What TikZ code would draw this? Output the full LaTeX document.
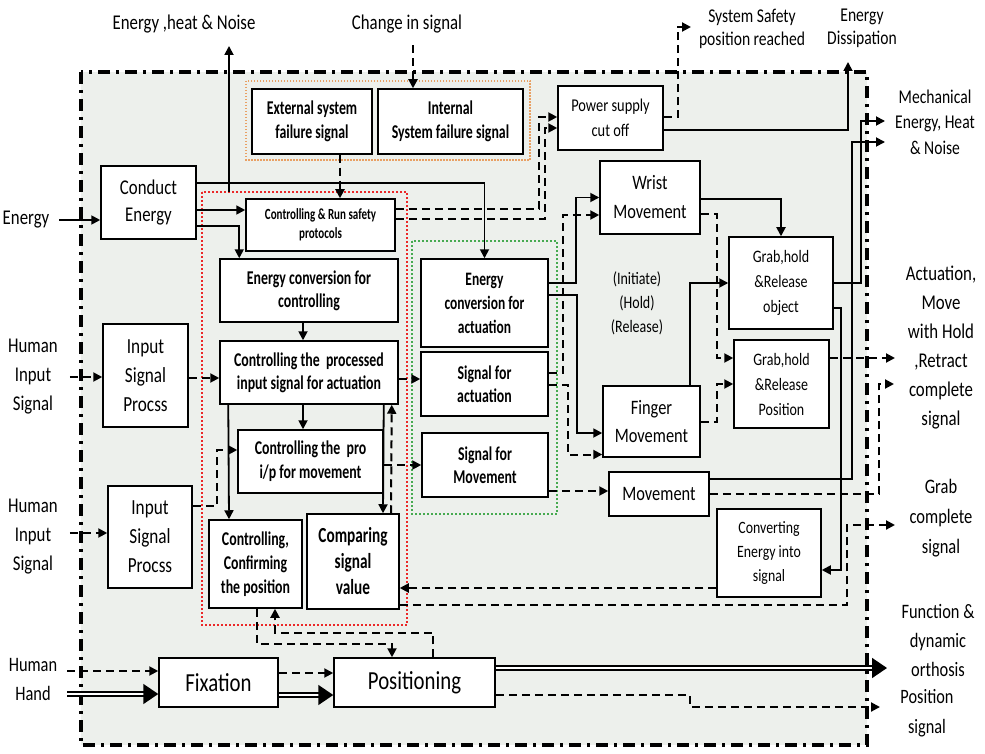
\documentclass[tikz,border=0pt]{standalone}
\usepackage{fontspec}
\setmainfont{Carlito}[FakeStretch=0.8,BoldFeatures={FakeStretch=0.71}]
\usetikzlibrary{arrows.meta,calc}
\newcommand\fsz[2]{\fontsize{#1}{#2}\selectfont}
\definecolor{bgc}{RGB}{237,240,236}
\definecolor{redd}{RGB}{235,40,40}
\definecolor{orng}{RGB}{232,160,100}
\definecolor{grn}{RGB}{70,170,80}
\begin{document}
\begin{tikzpicture}[x=1pt,y=-1pt,
 box/.style={draw, fill=white, line width=1.5pt, align=center, inner sep=1pt},
 lbl/.style={align=center, inner sep=2pt},
 arr/.style={line width=1.8pt, -{Triangle[length=9pt,width=9pt]}},
 dsh/.style={line width=2pt, dash pattern=on 8pt off 5pt},
 dbl/.style={line width=1.6pt, double distance=2.8pt, -{Triangle[length=15pt,width=20pt]}},
]
\useasboundingbox (0,0) rectangle (985,754);
% outer system boundary
\fill[bgc] (81,72) rectangle (867,745);
\draw[line width=3.5pt, dash pattern=on 12pt off 6pt on 3pt off 6pt] (81,72) rectangle (867,745);
% grouping frames
\draw[orng, line width=2.5pt, dash pattern=on 1.5pt off 1.5pt] (246,81) rectangle (530,160);
\draw[redd, line width=2pt, dash pattern=on 2pt off 2pt] (202,192) rectangle (407,625);
\draw[grn, line width=2pt, dash pattern=on 2pt off 2pt] (412,241) rectangle (557,514);

% boxes
\node[box, minimum width=95pt, minimum height=73pt, font=\fsz{21}{27}] (conduct) at (148.5,202.5) {Conduct\\Energy};
\node[box, minimum width=120pt, minimum height=65pt, font=\fsz{19.5}{24}\bfseries] (ext) at (312,121.5) {External system\\failure signal};
\node[box, minimum width=145pt, minimum height=65pt, font=\fsz{19.5}{24}\bfseries] (int) at (450.5,121.5) {Internal\\System failure signal};
\node[box, minimum width=149pt, minimum height=52pt, font=\fsz{15.5}{19}\bfseries] (crs) at (320.5,225) {Controlling \& Run safety\\protocols};
\node[box, minimum width=178pt, minimum height=63pt, font=\fsz{19.5}{23}\bfseries] (ecc) at (309,290.5) {Energy conversion for\\controlling};
\node[box, minimum width=178pt, minimum height=63pt, font=\fsz{19.5}{23}\bfseries] (cpi) at (309,372.5) {Controlling the\ \ processed\\input signal for actuation};
\node[box, minimum width=145pt, minimum height=63pt, font=\fsz{19.5}{24}\bfseries] (cpm) at (310.5,461.5) {Controlling the\ \ pro\\i/p for movement};
\node[box, minimum width=93pt, minimum height=88pt, font=\fsz{19.5}{24}\bfseries] (ccp) at (255.5,564) {Controlling,\\Confirming\\the position};
\node[box, minimum width=92pt, minimum height=95pt, font=\fsz{21.5}{26}\bfseries] (csv) at (353,561.5) {Comparing\\signal\\value};
\node[box, minimum width=85pt, minimum height=103pt, font=\fsz{21.5}{29}] (isp1) at (145.5,375.5) {Input\\Signal\\Procss};
\node[box, minimum width=84pt, minimum height=102pt, font=\fsz{21.5}{29}] (isp2) at (150,537) {Input\\Signal\\Procss};
\node[box, minimum width=127pt, minimum height=88pt, font=\fsz{19}{24}\bfseries] (eca) at (484.5,303) {Energy\\conversion for\\actuation};
\node[box, minimum width=127pt, minimum height=64pt, font=\fsz{19.5}{23}\bfseries] (sfa) at (484.5,384) {Signal for\\actuation};
\node[box, minimum width=126pt, minimum height=64pt, font=\fsz{19.5}{23}\bfseries] (sfm) at (485,465) {Signal for\\Movement};
\node[box, minimum width=105pt, minimum height=64pt, font=\fsz{18}{25}] (psc) at (610.5,118) {Power supply\\cut off};
\node[box, minimum width=100pt, minimum height=73pt, font=\fsz{20.5}{29}] (wrist) at (650,197.5) {Wrist\\Movement};
\node[box, minimum width=97pt, minimum height=71pt, font=\fsz{20.5}{28}] (finger) at (651.5,421.5) {Finger\\Movement};
\node[box, minimum width=104pt, minimum height=92pt, font=\fsz{17.5}{25}] (gro) at (781,283) {Grab,hold\\\&Release\\object};
\node[box, minimum width=95pt, minimum height=88pt, font=\fsz{17.5}{25}] (grp) at (781.5,384) {Grab,hold\\\&Release\\Position};
\node[box, minimum width=100pt, minimum height=44pt, font=\fsz{20.5}{26}] (mov) at (659,494) {Movement};
\node[box, minimum width=104pt, minimum height=88pt, font=\fsz{17.3}{24}] (cei) at (769,553) {Converting\\Energy into\\signal};
\node[box, minimum width=119pt, minimum height=49pt, font=\fsz{26}{30}] (fix) at (218.5,682.5) {Fixation};
\node[box, minimum width=161pt, minimum height=49pt, font=\fsz{26}{30}] (pos) at (414.5,682.5) {Positioning};

% free labels
\node[lbl, font=\fsz{21}{27}] (ehn) at (184,24) {Energy ,heat \& Noise};
\node[lbl, font=\fsz{21}{27}] (cis) at (407,24) {Change in signal};
\node[lbl, font=\fsz{21}{27}] (energy) at (26,220) {Energy};
\node[lbl, font=\fsz{21}{29}] (his1) at (33,377) {Human\\Input\\Signal};
\node[lbl, font=\fsz{21}{29}] (his2) at (33,537) {Human\\Input\\Signal};
\node[lbl, font=\fsz{20.5}{29}] (hh) at (33,679) {Human\\Hand};
\node[lbl, font=\fsz{19.5}{23}] (sss) at (752,28.5) {System Safety\\position reached};
\node[lbl, font=\fsz{19.5}{23}] (ed) at (862,28.5) {Energy\\Dissipation};
\node[lbl, font=\fsz{19.5}{25.5}] (mech) at (935,122) {Mechanical\\Energy, Heat\\\& Noise};
\node[lbl, font=\fsz{21}{29}] (act) at (941,347.5) {Actuation,\\Move\\with Hold\\,Retract\\complete\\signal};
\node[lbl, font=\fsz{20.6}{30}] (gcs) at (941,518) {Grab\\complete\\signal};
\node[lbl, font=\fsz{20.5}{29}] (fdo) at (938,640) {Function \&\\dynamic\\orthosis};
\node[lbl, font=\fsz{20.4}{30}] (ps) at (927,713) {Position\\signal};
\node[lbl, font=\fsz{17.5}{24}] (ihr) at (637,303.5) {(Initiate)\\(Hold)\\(Release)};

% free ends
\coordinate (ehnsrc) at (229,192);
\coordinate (ehnend) at (229,46);
\coordinate (sssend) at (691,27);
\coordinate (edend) at (848,62);
\coordinate (mechA) at (885,121);
\coordinate (mechB) at (885,142);
\coordinate (actA) at (895,358);
\coordinate (actB) at (894,384);
\coordinate (gcsA) at (895,525);
\coordinate (fdoA) at (887,668);
\coordinate (psA) at (880,707);

% connectors
\draw[arr] ([xshift=8pt]energy.east) -- (conduct.west |- energy.east);
\draw[arr] (ehnsrc) -- (ehnend);
\draw[arr,dsh] ($(int.north)+(-37.5,-43)$) -- ($(int.north)+(-37.5,0)$);
\draw[arr] ($(conduct.east)+(0,-19.5)$) -| (eca.north);
\draw[arr] ($(conduct.east)+(0,7.5)$) -- ($(crs.west)+(0,-15)$);
\draw[arr] ($(conduct.east)+(0,23.5)$) -| ($(ecc.north west)+(20,0)$);
\draw[arr,dsh] ($(ext.south)+(28,0)$) -- ($(crs.north)+(19.5,0)$);
\draw[arr,dsh] ($(crs.east)+(0,-16)$) -- ++(143,0) |- ($(psc.west)+(0,-1)$);
\draw[arr,dsh] ($(crs.east)+(0,-6)$) -- ++(149,0) |- ($(psc.west)+(0,10)$);
\draw[arr,dsh] ($(psc.east)+(0,-1)$) -| ($(sssend)+(-13,0)$) -- (sssend);
\draw[arr] ($(psc.east)+(0,12)$) -| (edend);
\draw[arr] ($(eca.east)+(0,-20)$) -- ++(27,0) |- (wrist.west);
\draw[arr] ($(eca.east)+(0,-8)$) -- ++(28,0) |- ($(finger.west)+(0,11.5)$);
\draw[arr,dsh] ($(sfa.east)+(0,-11)$) -- ++(14,0) |- ($(wrist.west)+(0,17.5)$);
\draw[arr,dsh] ($(sfa.east)+(0,1)$) -- ++(19,0) |- ($(finger.west)+(0,33)$);
\draw[arr,dsh] ($(sfm.east)+(0,26)$) -- ($(mov.west)+(0,-3)$);
\draw[arr,dsh] ($(cpi.east)+(0,6.5)$) -- ($(sfa.west)+(0,-5)$);
\draw[arr,dsh] ($(cpm.east)+(0,3.5)$) -- (sfm.west);
\draw[arr] ($(ecc.south)+(-6,0)$) -- ($(cpi.north)+(-6,0)$);
\draw[arr] ($(cpi.south)+(-6,0)$) -- ($(cpm.north)+(-7.5,0)$);
\draw[arr] ($(cpi.south west)+(9,0)$) -- ($(ccp.north)+(-26.5,0)$);
\draw[arr] ($(cpi.south east)+(-15,0)$) -- ($(csv.north)+(30,0)$);
\draw[arr,dsh] ($(csv.north)+(38,0)$) -- ($(cpi.south east)+(-7,0)$);
\draw[arr,dsh] ([xshift=10pt]his1.east) -- (isp1.west |- his1.east);
\draw[arr,dsh] ($(isp1.east)+(0,2.5)$) -- ($(cpi.west)+(0,5.5)$);
\draw[arr,dsh] ($(his2.east)+(10,-4)$) -- ($(isp2.west)+(0,-4)$);
\draw[arr,dsh] ($(isp2.east)+(0,-31)$) -- ++(24,0) |- ($(cpm.west)+(0,-11.5)$);
\draw[arr,dsh] ($(ccp.south)+(1.5,0)$) -- ++(0,35) -| ($(pos.north)+(-22.5,0)$);
\draw[arr,dsh] ($(pos.north)+(18.5,0)$) |- ($(ccp.south)+(19.5,24)$) -- ($(ccp.south)+(19.5,0)$);
\draw[arr,dsh] ($(cei.west)+(0,35)$) -- ($(csv.east)+(0,26.5)$);
\draw[arr,dsh] ($(csv.east)+(0,43.5)$) -| ($(gcsA)+(-48,0)$) -- (gcsA);
\draw[arr] ($(gro.east)+(0,25)$) -- ++(7,0) |- ($(cei.east)+(0,17)$);
\draw[arr] (gro.east) -- ++(27,0) |- (mechA);
\draw[arr] ($(mov.east)+(0,-15)$) -| ($(mechB)+(-33,0)$) -- (mechB);
\draw[arr,dsh] (mov.east) -| ($(actB)+(-15,0)$) -- (actB);
\draw[arr,dsh] ($(grp.east)+(0,-26)$) -- (actA);
\draw[arr] ($(wrist.east)+(0,1.5)$) -| (gro.north);
\draw[arr,dsh] ($(wrist.east)+(0,16.5)$) -- ++(16,0) |- ($(grp.west)+(0,-26)$);
\draw[arr] ($(finger.north)+(38.5,0)$) |- (gro.west);
\draw[arr,dsh] (finger.east) -- ++(16,0) |- (grp.west);
\draw[arr,dsh] ($(hh.east)+(8,-8)$) -- ($(fix.west)+(0,-11.5)$);
\draw[dbl] ($(hh.east)+(8,15)$) -- ($(fix.west)+(0,11.5)$);
\draw[arr,dsh] ($(fix.east)+(0,-9.5)$) -- ($(pos.west)+(0,-9.5)$);
\draw[dbl] ($(fix.east)+(0,12.5)$) -- ($(pos.west)+(0,12.5)$);
\draw[dbl] ($(pos.east)+(0,-14.5)$) -- (fdoA);
\draw[arr,dsh] ($(pos.east)+(0,12.5)$) -- ++(194,0) -- ++(0,12) -- (psA);
\end{tikzpicture}
\end{document}
